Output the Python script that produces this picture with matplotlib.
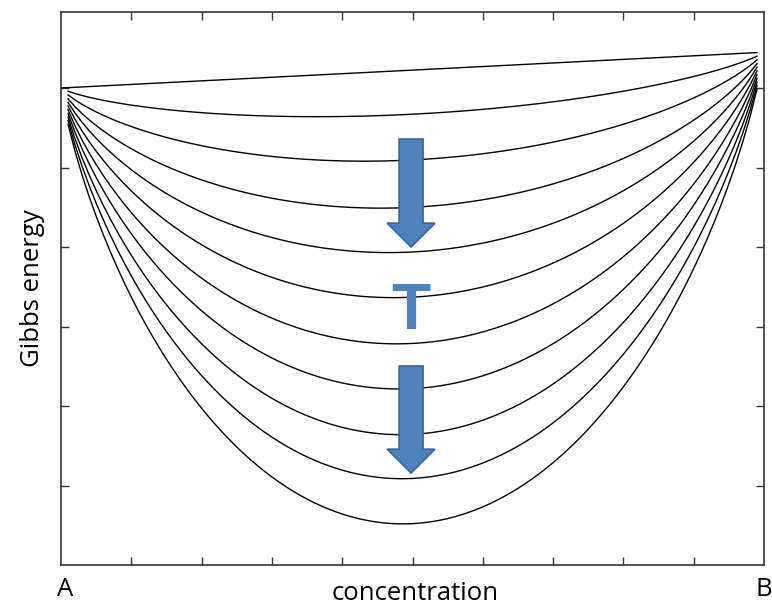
import numpy as np
import matplotlib
matplotlib.use("Agg")
import matplotlib.pyplot as plt
from matplotlib.patches import FancyArrow

# ---- data ----
# Gibbs energy of pure A and pure B (B end at x=0.99)
G_A = 0.0
G_B = 0.45
# RT values of the family of curves (top straight line = 0)
rt_values = [0.0, 0.80, 1.63, 2.49, 3.30, 4.12, 4.96, 5.78, 6.61, 7.41, 8.23]
conc = np.arange(0.0, 1.0, 0.01)

x_label = "concentration"
y_label = "Gibbs energy"
end_labels = ["A", "B"]
temp_label = "T"

W, H = 772, 608
fig = plt.figure(figsize=(W / 100, H / 100), dpi=100)
ax = fig.add_axes([61 / W, (H - 565) / H, (764 - 61) / W, (565 - 12) / H])

with np.errstate(divide="ignore", invalid="ignore"):
    mix = conc * np.log(conc) + (1 - conc) * np.log(1 - conc)
for rt in rt_values:
    if rt == 0:
        g = (1 - conc) * G_A + conc * G_B
    else:
        g = (1 - conc) * G_A + conc * G_B + rt * mix
    ax.plot(conc, g, color="black", lw=1.0, solid_joinstyle="miter")

ax.set_xlim(0, 1)
ax.set_ylim(-6, 0.956)
ax.set_xticks(np.arange(0.1, 1.0, 0.1))
ax.set_yticks(np.arange(-5, 1, 1))
ax.tick_params(direction="in", length=6, width=1.0, top=True, right=True,
               labelbottom=False, labelleft=False, color="#333333")
for s in ax.spines.values():
    s.set_linewidth(1.2)
    s.set_color("#333333")

blue = "#4F81BD"
edge = "#3B6496"
for top, tip in [(-0.642, -2.0), (-3.497, -4.843)]:
    arr = FancyArrow(0.498, top, 0, tip - top, width=0.034, head_width=0.068,
                     head_length=0.30, length_includes_head=True,
                     fc=blue, ec=edge, lw=1.2, zorder=5)
    ax.add_patch(arr)

ax.text(0.498, -3.03, temp_label, ha="center", va="baseline", color=blue,
        fontsize=46, fontweight="bold", family="Liberation Sans", zorder=6)

fs = 18.5
fam = "Open Sans"
fig.text(415 / W, 1 - 594 / H, x_label, ha="center", va="center", fontsize=fs, family=fam)
fig.text(33 / W, 1 - 288 / H, y_label, ha="center", va="center", rotation=90,
         fontsize=fs, family=fam)
fig.text(65 / W, 1 - 589 / H, end_labels[0], ha="center", va="center", fontsize=fs, family=fam)
fig.text(764 / W, 1 - 589 / H, end_labels[1], ha="center", va="center", fontsize=fs, family=fam)

fig.savefig("out.png", dpi=100)
